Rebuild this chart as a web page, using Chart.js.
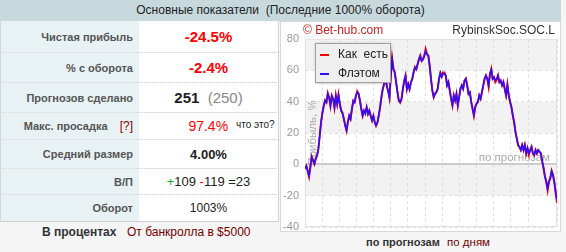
<!DOCTYPE html>
<html>
<head>
<meta charset="utf-8">
<script src="https://cdn.jsdelivr.net/npm/chart.js@4.4.1/dist/chart.umd.min.js"></script>
<style>
    body { margin: 0; width: 566px; height: 252px; background: #f5f5f5; font-family: "Liberation Sans", Arial, sans-serif; position: relative; overflow: hidden; }
    #hdr { position: absolute; left: 0; top: 0; width: 561px; height: 21px; background: #c7d9dd; text-align: center; line-height: 21px; font-size: 12px; color: #222; }
    .row { position: absolute; left: 0; width: 279px; display: flex; border-bottom: 1px dotted #cfcfcf; border-left: 1px solid #d6d6d6; border-right: 1px solid #d6d6d6; box-sizing: border-box; }
    .row.last { border-bottom: 1px solid #cfcfcf; }
    .lab { width: 138px; background: #e8f1f3; display: flex; align-items: center; justify-content: flex-end; padding-right: 6px; box-sizing: border-box; font-weight: bold; font-size: 11px; color: #555; }
    .val { flex: 1; background: #fff; display: flex; align-items: center; justify-content: center; font-size: 13px; color: #222; }
    .red { color: #f00; }
    .q { color: #800; font-weight: normal; margin-left: 9px; font-size: 12px; }
    #panel { position: absolute; left: 280px; top: 21px; width: 281px; height: 211px; background: #fff; border: 1px solid #d8d8d8; box-sizing: border-box; }
    #chart { position: absolute; left: 0; top: 0; }
    .foot { position: absolute; font-size: 12px; }
</style>
</head>
<body>
<div id="hdr">Основные показатели&nbsp; (Последние 1000% оборота)</div>

<div class="row" style="top:21px;height:32px"><div class="lab">Чистая прибыль</div><div class="val"><b class="red" style="font-size:15px">-24.5%</b></div></div>
<div class="row" style="top:53px;height:30px"><div class="lab">% с оборота</div><div class="val"><b class="red" style="font-size:15px">-2.4%</b></div></div>
<div class="row" style="top:83px;height:30px"><div class="lab">Прогнозов сделано</div><div class="val" style="font-size:15px"><span><b>251</b>&nbsp; <span style="color:#888">(250)</span></span></div></div>
<div class="row" style="top:113px;height:27px"><div class="lab"><span>Макс. просадка <span class="q">[?]</span></span></div><div class="val"><span><span class="red" style="font-size:14px;margin-left:46px">97.4%</span><span style="font-size:10px;margin-left:8px;position:relative;top:-3px">что это?</span></span></div></div>
<div class="row" style="top:140px;height:29px"><div class="lab">Средний размер</div><div class="val"><b style="font-size:13px">4.00%</b></div></div>
<div class="row" style="top:169px;height:26px"><div class="lab">В/П</div><div class="val"><span><span style="color:#2a2">+</span>109 <span class="red">-</span>119 =23</span></div></div>
<div class="row last" style="top:195px;height:27px"><div class="lab">Оборот</div><div class="val" style="font-size:12px">1003%</div></div>

<div class="foot" style="left:42px;top:225px;font-weight:bold;color:#333">В процентах</div>
<div class="foot" style="left:127px;top:225px;color:#700">От банкролла в $5000</div>

<div id="panel"><canvas id="chart" width="279" height="209"></canvas></div>

<div class="foot" style="left:366px;top:236px;font-weight:bold;color:#333;font-size:11px">по прогнозам</div>
<div class="foot" style="left:447px;top:236px;color:#700;font-size:11.5px">по дням</div>

<script>
// profit curve, % of bankroll, one value per sample along the forecasts axis
const FLAT_VALUES = [
    -2.8, -1, -4, -7.4, -1.7, 4.7, 2.5, 0.4, 3.6, 5.7,
    10, 18.4, 27, 33, 37.5, 40.6, 39.6, 45, 42.7, 37.5,
    43.8, 41.7, 36.4, 43.8, 38.5, 44.2, 38.5, 34.3, 32.2, 29,
    24.8, 21.6, 27, 31, 29, 35.3, 40.6, 39.6, 43.8, 46,
    45, 40.6, 35.3, 31, 34.3, 32.2, 36.4, 32.2, 34.3, 31,
    28, 31, 27, 24.8, 26.5, 31, 36.4, 42.7, 48, 51.2,
    56.5, 50, 47, 42.7, 56.5, 67, 60.7, 58.6, 52.3, 46,
    40.6, 39.6, 41.7, 48, 53.3, 56.5, 48, 51.2, 48, 52.3,
    54.4, 58.6, 61.8, 60.7, 63.9, 67, 69.2, 66, 67, 69.2,
    72.4, 70.3,
    69.4, 63, 54.6, 47.2, 43, 45, 46, 48.2, 54.6, 58.4,
    55.6, 57.8, 57.8, 56.7, 50.4, 52.5, 47.2, 41.9, 37.7, 44,
    40.8, 45, 37.7, 43, 48.2, 50.4, 48.2, 53.5, 54.6, 50.4,
    45, 46, 39.8, 35.5, 31.3, 36.6, 38.7, 39.8, 44, 41.9,
    46, 50.4, 54.6, 56.7, 54.6, 50.4, 57.8, 60.3, 54.6, 55.6,
    53.5, 54.6, 56.7, 52.5, 53.5, 50.4, 52.5, 48.2, 44, 50.4,
    44, 39.8, 36.6, 31.3, 27, 20.7, 16.5, 12.3, 11.2, 9.1,
    12.3, 9.1, 12.3, 7, 10.2, 7, 9.1, 11.2, 7, 5.9,
    9.1, 7, 9.1, 8, 7, 1.7, -2.5, -7.8, -11, -15.4,
    -11, -8.9, -4.2, -6.8, -11, -17.4, -22.5,
];

const ASIS_VALUES = [
    -2.8, -1, -4.2, -7.8, -1.7, 4.9, 2.5, 0.2, 3.6, 5.7,
    10, 18.4, 27, 33, 37.5, 40.8, 39.6, 45.5, 42.7, 37.3,
    43.8, 41.7, 36.2, 43.8, 38.5, 44.4, 38.5, 34.3, 33, 29,
    24.8, 21.4, 27, 31, 29, 35.3, 40.6, 39.6, 43.8, 46.6,
    45, 40.6, 35.3, 31, 34.3, 33.2, 36.4, 32.2, 34.3, 31,
    28, 31, 27, 24.6, 26.5, 31, 36.4, 42.7, 48, 51.2,
    56.8, 50, 47, 42.5, 56.5, 67.5, 60.7, 58.6, 52.3, 46,
    40.6, 39.4, 41.7, 48, 53.3, 56.8, 48, 51.2, 48, 52.3,
    54.4, 58.6, 62, 60.7, 63.9, 67, 69.4, 66, 67, 69.4,
    73.6, 70.5,
    69.4, 63, 54.6, 47.2, 42.8, 45, 46, 48.2, 54.6, 58.4,
    56.5, 58.6, 58.6, 56.7, 50.4, 52.5, 47.2, 41.9, 37.5, 44,
    40.8, 45, 37.5, 43, 48.2, 50.4, 48.2, 53.5, 54.8, 50.4,
    45, 46, 39.8, 35.5, 31.1, 36.6, 38.7, 39.8, 44, 41.9,
    46, 50.4, 54.6, 56.7, 54.6, 49.4, 57.8, 61, 54.6, 55.6,
    52.5, 53.8, 56.7, 52.5, 53.5, 50.4, 52.5, 48.2, 44, 51,
    44, 39.8, 36.6, 31.3, 27, 20.7, 16.5, 12.1, 11, 9.1,
    12.3, 9.1, 12.3, 6.8, 10.2, 6, 9.1, 11.2, 7, 5.7,
    9.1, 7, 9.1, 8, 7, 1.7, -2.5, -7.8, -11.2, -16.6,
    -11, -8.9, -4.2, -6.8, -11.4, -18.2, -24.5,
];

const SAMPLE_LABELS = FLAT_VALUES.map((_, i) => i);
const Y_TICKS = { min: -40, max: 80, step: 20 };
const SHADED_BANDS = [[60, 80], [20, 40], [-20, 0]];
const X_GRID_STEP = 12.8;

const GRID_COLOR = "#dedede";
const FONT = "'Liberation Sans', Arial, sans-serif";

const panelDecor = {
    id: "panelDecor",
    beforeDraw(chart) {
        const { ctx, chartArea: a, scales: { y } } = chart;
        ctx.save();
        ctx.fillStyle = "#f2f2f2";
        SHADED_BANDS.forEach(([lo, hi]) => {
            const top = y.getPixelForValue(hi);
            const bot = y.getPixelForValue(lo);
            ctx.fillRect(a.left, top, a.right - a.left, bot - top);
        });
        ctx.restore();
    },
    beforeDatasetsDraw(chart) {
        const { ctx, chartArea: a, scales: { y } } = chart;
        ctx.save();
        ctx.strokeStyle = "#e2e2e2";
        ctx.lineWidth = 1;
        ctx.strokeRect(a.left + 0.5, a.top + 0.5, a.right - a.left - 1, a.bottom - a.top - 1);
        // zero line
        const z = Math.round(y.getPixelForValue(0));
        ctx.strokeStyle = "#cccccc";
        ctx.lineWidth = 2;
        ctx.beginPath();
        ctx.moveTo(a.left, z);
        ctx.lineTo(a.right, z);
        ctx.stroke();
        // axis titles sit inside the plot
        ctx.fillStyle = "#aaaaaa";
        ctx.font = "11.5px " + FONT;
        ctx.textBaseline = "middle";
        ctx.textAlign = "right";
        ctx.fillText("по прогнозам", a.right - 7, z - 6);
        ctx.translate(a.left + 8, (a.top + a.bottom) / 2);
        ctx.rotate(-Math.PI / 2);
        ctx.textAlign = "center";
        ctx.fillText("Прибыль, %", 0, 0);
        ctx.restore();
    },
    afterDraw(chart) {
        const { ctx, chartArea: a } = chart;
        ctx.save();
        ctx.font = "12px " + FONT;
        ctx.textBaseline = "middle";
        ctx.fillStyle = "#cc2222";
        ctx.textAlign = "left";
        ctx.fillText("© Bet-hub.com", a.left - 2, 9);
        ctx.fillStyle = "#333";
        ctx.textAlign = "right";
        ctx.fillText("RybinskSoc.SOC.L", a.right - 2, 9);

        // legend box
        const bx = a.left + 10, by = a.top + 4, bw = 75, bh = 39;
        ctx.shadowColor = "rgba(0,0,0,0.35)";
        ctx.shadowBlur = 3;
        ctx.shadowOffsetX = 1;
        ctx.shadowOffsetY = 1;
        ctx.fillStyle = "#efefef";
        ctx.fillRect(bx, by, bw, bh);
        ctx.shadowColor = "transparent";
        ctx.strokeStyle = "#a0a0a0";
        ctx.lineWidth = 1;
        ctx.strokeRect(bx + 0.5, by + 0.5, bw, bh);
        chart.data.datasets.forEach((ds, i) => {
            const ly = by + 12 + i * 19;
            ctx.strokeStyle = ds.borderColor;
            ctx.lineWidth = 2;
            ctx.beginPath();
            ctx.moveTo(bx + 5, ly);
            ctx.lineTo(bx + 14, ly);
            ctx.stroke();
            ctx.fillStyle = "#222";
            ctx.textAlign = "left";
            ctx.fillText(ds.label, bx + 23, ly);
        });
        ctx.restore();
    },
};

new Chart(document.getElementById("chart"), {
    type: "line",
    data: {
        labels: SAMPLE_LABELS,
        datasets: [
            {
                label: "Как  есть",
                data: ASIS_VALUES,
                borderColor: "#ff0000",
                borderWidth: 2,
                pointRadius: 0,
                tension: 0,
                order: 2,
            },
            {
                label: "Флэтом",
                data: FLAT_VALUES,
                borderColor: "#2a10ff",
                borderWidth: 1.6,
                pointRadius: 0,
                tension: 0,
                order: 1,
            },
        ],
    },
    options: {
        responsive: false,
        animation: false,
        devicePixelRatio: 1,
        layout: { autoPadding: false, padding: { top: 17, right: 3, bottom: 4, left: 0 } },
        plugins: { legend: { display: false }, tooltip: { enabled: false } },
        scales: {
            x: {
                type: "linear",
                min: 0,
                max: SAMPLE_LABELS.length - 1,
                afterFit: (s) => { s.height = 0; },
                ticks: { display: false, stepSize: X_GRID_STEP, maxTicksLimit: 40 },
                grid: { color: GRID_COLOR, drawTicks: false },
                border: { display: false, dash: [3, 3] },
            },
            y: {
                min: Y_TICKS.min,
                max: Y_TICKS.max,
                afterFit: (s) => {
                    s.width = 24;
                    s.paddingTop = 0;
                    s.paddingBottom = 0;
                },
                ticks: { stepSize: Y_TICKS.step, color: "#999", font: { size: 11, family: FONT }, padding: 6 },
                grid: { color: GRID_COLOR, drawTicks: false },
                border: { display: false, dash: [3, 3] },
            },
        },
    },
    plugins: [panelDecor],
});
</script>
</body>
</html>
